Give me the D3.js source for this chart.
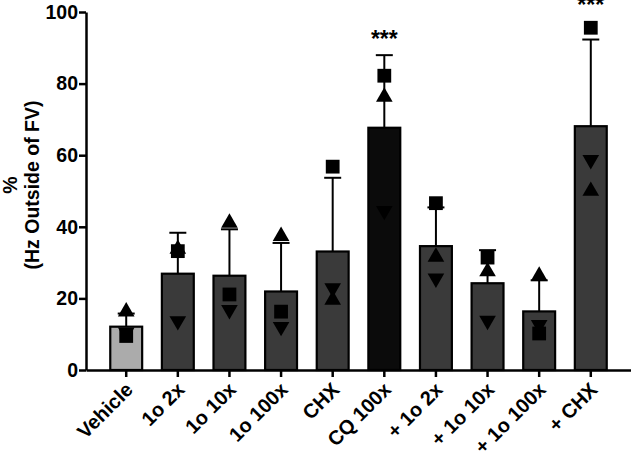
<!DOCTYPE html>
<meta charset="utf-8">
<head>
<style>
body { margin: 0; background: white; }
text { font-family: "Liberation Sans", Arial, sans-serif; font-weight: bold; fill: black; }
</style>
</head>
<body>
<div id="chart"></div>
<script src="https://d3js.org/d3.v7.min.js"></script>
<script>

// groups along the x axis
var groups = ["Vehicle", "1o 2x", "1o 10x", "1o 100x", "CHX", "CQ 100x",
              "+ 1o 2x", "+ 1o 10x", "+ 1o 100x", "+ CHX"];

// the three replicates of each group
var squares  = [9.5, 33.2, 21.1, 16.3, 56.8, 82.2, 46.6, 31.4, 10.2, 95.6];
var upTris   = [16.3, 33.8, 41.1, 37.4, 19.6, 76.3, 31.6, 27.5, 26.3, 50.0];
var downTris = [10.5, 13.7, 16.8, 12.1, 22.9, 44.5, 25.6, 13.8, 12.6, 58.7];

var fills = ["#ababab", "#3a3a3a", "#3a3a3a", "#3a3a3a", "#3a3a3a", "#0b0b0b",
             "#3a3a3a", "#3a3a3a", "#3a3a3a", "#3a3a3a"];
var stars = ["", "", "", "", "", "***", "", "", "", "***"];

var yTicks = [0, 20, 40, 60, 80, 100];

var width = 631, height = 456;

var svg = d3.select("#chart").append("svg")
    .attr("width", width)
    .attr("height", height);

var x = d3.scaleBand()
    .domain(groups)
    .range([86, 631])
    .paddingInner(0.382)
    .paddingOuter(0.47);

var y = d3.scaleLinear()
    .domain([0, 100])
    .range([370, 12]);

// mean and sd of each group
var stats = groups.map(function(g, i) {
  var v = [squares[i], upTris[i], downTris[i]];
  return {name: g, i: i, mean: d3.mean(v), sd: d3.deviation(v)};
});

function cx(d) { return x(d.name) + x.bandwidth() / 2; }

// bars
svg.selectAll(".bar")
  .data(stats)
  .enter().append("rect")
    .attr("class", "bar")
    .attr("x", function(d) { return x(d.name); })
    .attr("y", function(d) { return y(d.mean); })
    .attr("width", x.bandwidth())
    .attr("height", function(d) { return y(0) - y(d.mean); })
    .style("fill", function(d) { return fills[d.i]; })
    .style("stroke", "black")
    .style("stroke-width", 2.2);

// error bars (upper only)
var err = svg.selectAll(".err").data(stats).enter().append("g");
err.append("line")
    .attr("x1", cx).attr("x2", cx)
    .attr("y1", function(d) { return y(d.mean); })
    .attr("y2", function(d) { return y(d.mean + d.sd); })
    .style("stroke", "black").style("stroke-width", 2);
err.append("line")
    .attr("x1", function(d) { return cx(d) - 8.5; })
    .attr("x2", function(d) { return cx(d) + 8.5; })
    .attr("y1", function(d) { return y(d.mean + d.sd); })
    .attr("y2", function(d) { return y(d.mean + d.sd); })
    .style("stroke", "black").style("stroke-width", 2);

// replicate points
function drawPoints(vals, type, size, rot) {
  svg.append("g").selectAll("path")
    .data(vals)
    .enter().append("path")
      .attr("d", d3.symbol().type(type).size(size))
      .attr("transform", function(d, i) {
        return "translate(" + (x(groups[i]) + x.bandwidth() / 2) + "," + y(d) + ") rotate(" + rot + ")";
      })
      .style("fill", "black");
}
drawPoints(downTris, d3.symbolTriangle, 120, 180);
drawPoints(upTris, d3.symbolTriangle, 120, 0);
drawPoints(squares, d3.symbolSquare, 190, 0);

// significance stars
svg.selectAll(".star")
  .data(stats.filter(function(d) { return stars[d.i] != ""; }))
  .enter().append("text")
    .attr("x", cx)
    .attr("y", function(d) {
      return Math.min(y(d.mean + d.sd) - 8, y(squares[d.i]) - 15, y(upTris[d.i]) - 15);
    })
    .attr("text-anchor", "middle")
    .style("font-size", "23px")
    .text(function(d) { return stars[d.i]; });

// y axis
var yAxis = svg.append("g")
    .attr("transform", "translate(86,0)")
    .call(d3.axisLeft(y).tickValues(yTicks).tickSize(7).tickSizeOuter(0));
yAxis.select(".domain").style("stroke-width", 2.5);
yAxis.selectAll(".tick line").style("stroke-width", 2.5);
yAxis.selectAll(".tick text").style("font-size", "19.5px").attr("x", -8).style("fill", "black");

// x axis
var xAxis = svg.append("g")
    .attr("transform", "translate(0,370)")
    .call(d3.axisBottom(x).tickSize(7).tickSizeOuter(0));
xAxis.select(".domain").style("stroke-width", 2.5);
xAxis.selectAll(".tick line").style("stroke-width", 2.5);
xAxis.selectAll(".tick text")
    .style("font-size", "20px")
    .style("fill", "black")
    .attr("text-anchor", "end")
    .attr("dy", "0")
    .attr("transform", "translate(8,21) rotate(-45)")
    .attr("x", 0).attr("y", 0);

// y axis title
var ttl = svg.append("text")
    .attr("transform", "translate(17,185) rotate(-90)")
    .attr("text-anchor", "middle")
    .style("font-size", "19.5px");
ttl.append("tspan").attr("x", 0).attr("dy", 0).text("%");
ttl.append("tspan").attr("x", 0).attr("dy", 22).text("(Hz Outside of FV)");

</script>
</body>
